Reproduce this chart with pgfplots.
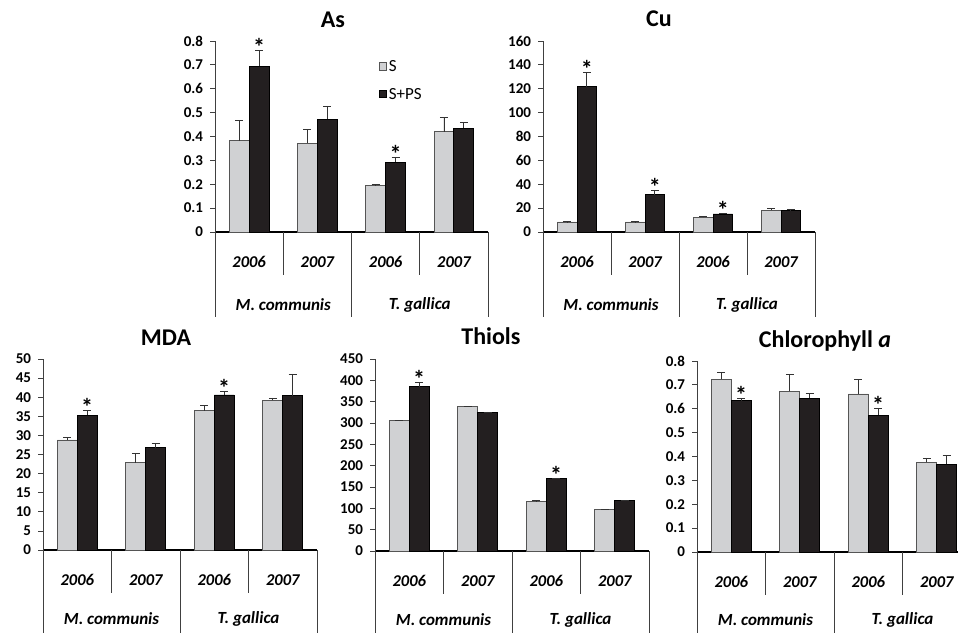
\documentclass[border=0pt]{standalone}
\usepackage{fontspec}
\setmainfont{Carlito}
\usepackage{pgfplots}
\pgfplotsset{compat=1.18}

\definecolor{sgray}{RGB}{208,209,211}
\definecolor{sblack}{RGB}{35,31,32}
\definecolor{edgegray}{RGB}{85,85,85}

\pgfplotsset{
  panel/.style={
    scale only axis,
    ybar=0pt, bar width=0.29,
    xmin=-0.5, xmax=3.5, ymin=0,
    axis x line=bottom, axis y line=left,
    axis line style={-},
    x axis line style={line width=1.8pt, black},
    y axis line style={line width=0.8pt, black!75},
    xtick={0,1,2,3}, xticklabels={2006,2007,2006,2007},
    xtick style={draw=none},
    xticklabel style={anchor=center, yshift=-25pt, font=\fontsize{16.5}{16.5}\selectfont\bfseries\itshape},
    ytick style={black!75, line width=0.8pt},
    tick align=outside, major tick length=5pt,
    yticklabel style={font=\fontsize{15}{15}\selectfont\bfseries, xshift=-3.5pt},
    /pgf/number format/assume math mode=true,
    /pgf/number format/fixed,
    /pgf/number format/precision=1,
    clip=false,
    title style={font=\fontsize{24}{24}\selectfont\bfseries, anchor=base, yshift=8pt},
    legend image code/.code={\draw[#1] (0pt,-3.5pt) rectangle (7.5pt,4pt);},
  },
  S/.style={fill=sgray, draw=edgegray, line width=0.8pt,
    error bars/.cd, y dir=plus, y explicit,
    error bar style={line width=0.8pt, black!80},
    error mark options={rotate=90, mark size=4pt, line width=0.8pt, black!80}},
  SPS/.style={fill=sblack, draw=black, line width=0.8pt,
    error bars/.cd, y dir=plus, y explicit,
    error bar style={line width=0.8pt, black!80},
    error mark options={rotate=90, mark size=4pt, line width=0.8pt, black!80}},
}

\newcommand{\catlines}[3]{%
  \draw[black!75, line width=0.8pt] (axis cs:0.5,0) -- ++(0pt,-#1) (axis cs:2.5,0) -- ++(0pt,-#1);
  \draw[black!75, line width=0.8pt] (axis cs:-0.5,0) -- ++(0pt,-#2) (axis cs:1.5,0) -- ++(0pt,-#2) (axis cs:3.5,0) -- ++(0pt,-#2);
  \node[font=\fontsize{17}{17}\selectfont\bfseries\itshape] at ([yshift=-#3]axis cs:0.5,0) {M. communis};
  \node[font=\fontsize{17}{17}\selectfont\bfseries\itshape] at ([yshift=-#3]axis cs:2.5,0) {T. gallica};
}
\newcommand{\sig}[2]{\node[font=\fontsize{24}{24}\selectfont\bfseries, anchor=base, inner sep=0pt] at ([yshift=-5pt]axis cs:#1,#2) {*};}

\begin{document}
\begin{tikzpicture}[x=1pt,y=1pt]
\useasboundingbox (0,0) rectangle (958,632);
\clip (0,0) rectangle (958,632);

% ---------------- As ----------------
\begin{axis}[panel, at={(215pt,400pt)}, anchor=south west, width=273pt, height=191pt,
  ymax=0.8, ytick={0,0.1,0.2,0.3,0.4,0.5,0.6,0.7,0.8},
  title={As}, title style={at={(axis description cs:0.432,1)}},
  legend style={at={(axis description cs:0.595,0.915)}, anchor=north west, draw=none, fill=none,
    font=\fontsize{17}{17}\selectfont, row sep=11pt, cells={anchor=west}, inner sep=1pt}]
\addplot[S] coordinates {(0,0.382) +- (0,0.085) (1,0.372) +- (0,0.059) (2,0.194) +- (0,0.004) (3,0.420) +- (0,0.061)};
\addplot[SPS] coordinates {(0,0.695) +- (0,0.065) (1,0.472) +- (0,0.056) (2,0.293) +- (0,0.018) (3,0.435) +- (0,0.022)};
\legend{S, S+PS}
\catlines{43pt}{85pt}{73pt}
\sig{0.145}{0.760}
\sig{2.145}{0.311}
\end{axis}

% ---------------- Cu ----------------
\begin{axis}[panel, at={(543pt,400pt)}, anchor=south west, width=272pt, height=191pt,
  ymax=160, ytick={0,20,40,60,80,100,120,140,160},
  title={Cu}, title style={at={(axis description cs:0.426,1)}}]
\addplot[S] coordinates {(0,8.4) +- (0,0.3) (1,8.4) +- (0,0.3) (2,12.3) +- (0,0.8) (3,18.4) +- (0,1.4)};
\addplot[SPS] coordinates {(0,121.8) +- (0,12.2) (1,31.2) +- (0,3.6) (2,15.1) +- (0,0.8) (3,18.1) +- (0,0.6)};
\catlines{43pt}{85pt}{73pt}
\sig{0.145}{134}
\sig{1.145}{34.8}
\sig{2.145}{15.9}
\end{axis}

% ---------------- MDA ----------------
\begin{axis}[panel, at={(43pt,82pt)}, anchor=south west, width=274pt, height=191pt,
  ymax=50, ytick={0,5,10,15,20,25,30,35,40,45,50},
  title={MDA}, title style={at={(axis description cs:0.449,1)}}]
\addplot[S] coordinates {(0,28.8) +- (0,0.7) (1,22.9) +- (0,2.4) (2,36.5) +- (0,1.3) (3,39.2) +- (0,0.6)};
\addplot[SPS] coordinates {(0,35.3) +- (0,1.2) (1,26.8) +- (0,1.2) (2,40.6) +- (0,1.0) (3,40.4) +- (0,5.7)};
\catlines{43pt}{90pt}{69pt}
\sig{0.145}{36.5}
\sig{2.145}{41.6}
\end{axis}

% ---------------- Thiols ----------------
\begin{axis}[panel, at={(375pt,81pt)}, anchor=south west, width=274pt, height=192pt,
  ymax=450, ytick={0,50,100,150,200,250,300,350,400,450},
  title={Thiols}, title style={at={(axis description cs:0.423,1)}}]
\addplot[S] coordinates {(0,305) +- (0,0) (1,339) +- (0,0.5) (2,117) +- (0,1) (3,97) +- (0,0)};
\addplot[SPS] coordinates {(0,385) +- (0,11) (1,324) +- (0,2) (2,170) +- (0,0) (3,119) +- (0,0)};
\catlines{43pt}{90pt}{69pt}
\sig{0.145}{396}
\sig{2.145}{170}
\end{axis}

% ---------------- Chlorophyll a ----------------
\begin{axis}[panel, at={(697pt,80pt)}, anchor=south west, width=274pt, height=191pt,
  ymax=0.8, ytick={0,0.1,0.2,0.3,0.4,0.5,0.6,0.7,0.8},
  title={Chlorophyll \textit{a}}, title style={at={(axis description cs:0.467,1)}}]
\addplot[S] coordinates {(0,0.723) +- (0,0.030) (1,0.673) +- (0,0.071) (2,0.662) +- (0,0.061) (3,0.375) +- (0,0.019)};
\addplot[SPS] coordinates {(0,0.634) +- (0,0.010) (1,0.644) +- (0,0.019) (2,0.573) +- (0,0.029) (3,0.367) +- (0,0.036)};
\catlines{43pt}{90pt}{68pt}
\sig{0.145}{0.644}
\sig{2.145}{0.602}
\end{axis}
\end{tikzpicture}
\end{document}
